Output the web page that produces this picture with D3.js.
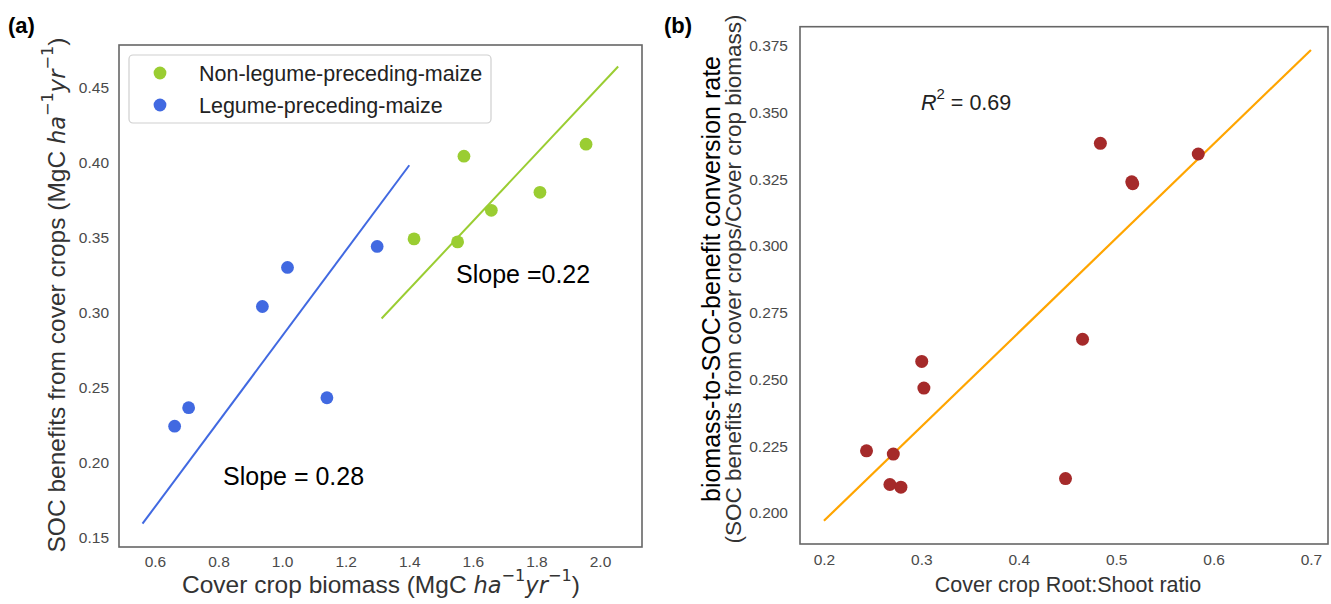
<!DOCTYPE html>
<html><head><meta charset="utf-8">
<script src="https://cdn.jsdelivr.net/npm/d3@7"></script>
<style>
html,body{margin:0;padding:0;background:#fff;}
svg{display:block;font-family:"Liberation Sans",Arial,Helvetica,sans-serif;}
</style></head>
<body>
<svg id="chart" width="1331" height="604"></svg>
<script>
// ---------- data ----------
const nonLegumeX = [1.415, 1.552, 1.572, 1.658, 1.811, 1.956];
const nonLegumeY = [0.349, 0.347, 0.404, 0.368, 0.380, 0.412];
const legumeX = [0.662, 0.706, 0.938, 1.017, 1.141, 1.299];
const legumeY = [0.2244, 0.2367, 0.304, 0.330, 0.2433, 0.344];
const legumeFit = [[0.561, 0.1595], [1.400, 0.398]];
const nonLegumeFit = [[1.313, 0.296], [2.057, 0.4637]];
const seriesNames = ["Non-legume-preceding-maize", "Legume-preceding-maize"];
const xTicksA = [0.6, 0.8, 1.0, 1.2, 1.4, 1.6, 1.8, 2.0];
const yTicksA = [0.15, 0.20, 0.25, 0.30, 0.35, 0.40, 0.45];

const ratioX = [0.4838, 0.5843, 0.516, 0.517, 0.4655, 0.3004, 0.3026, 0.2437, 0.2712, 0.2677, 0.279, 0.448];
const rateY  = [0.3384, 0.3344, 0.324, 0.3233, 0.265, 0.2567, 0.2467, 0.2232, 0.222, 0.2106, 0.2096, 0.2128];
const rateFit = [[0.2, 0.197], [0.7, 0.3734]];
const xTicksB = [0.2, 0.3, 0.4, 0.5, 0.6, 0.7];
const yTicksB = [0.200, 0.225, 0.250, 0.275, 0.300, 0.325, 0.350, 0.375];

// ---------- styles ----------
const GREEN = "#9acd32", BLUE = "#4169e1", ORANGE = "#ffa500", BROWN = "#a52a2a";
const TICK_COLOR = "#4a4a4a", LABEL_COLOR = "#333", FRAME = "#666";

const svg = d3.select("#chart");

function frame(x0, y0, x1, y1) {
  svg.append("rect").attr("x", x0).attr("y", y0).attr("width", x1 - x0).attr("height", y1 - y0)
    .attr("fill", "none").attr("stroke", FRAME).attr("stroke-width", 1.6);
}
function styleAxis(g) {
  g.select(".domain").remove();
  g.selectAll(".tick line").remove();
  g.selectAll("text").attr("fill", TICK_COLOR).style("font-size", "15.5px")
    .style("font-family", '"Liberation Sans",Arial,sans-serif');
}

// ---------- panel (a) ----------
const xA = d3.scaleLinear().domain([0.487, 2.132]).range([119, 642]);
const yA = d3.scaleLinear().domain([0.144, 0.478]).range([547, 45]);

svg.append("g").attr("transform", "translate(0,547)")
  .call(d3.axisBottom(xA).tickValues(xTicksA).tickFormat(d3.format(".1f")).tickSize(0).tickPadding(9))
  .call(styleAxis);
svg.append("g").attr("transform", "translate(119,0)")
  .call(d3.axisLeft(yA).tickValues(yTicksA).tickFormat(d3.format(".2f")).tickSize(0).tickPadding(10))
  .call(styleAxis);

const lineA = d3.line().x(d => xA(d[0])).y(d => yA(d[1]));
svg.append("path").datum(legumeFit).attr("d", lineA).attr("stroke", BLUE).attr("stroke-width", 2).attr("fill", "none");
svg.append("path").datum(nonLegumeFit).attr("d", lineA).attr("stroke", GREEN).attr("stroke-width", 2).attr("fill", "none");

svg.append("g").selectAll("circle").data(d3.zip(nonLegumeX, nonLegumeY)).join("circle")
  .attr("cx", d => xA(d[0])).attr("cy", d => yA(d[1])).attr("r", 6.4).attr("fill", GREEN);
svg.append("g").selectAll("circle").data(d3.zip(legumeX, legumeY)).join("circle")
  .attr("cx", d => xA(d[0])).attr("cy", d => yA(d[1])).attr("r", 6.4).attr("fill", BLUE);

frame(119, 45, 642, 547);

// legend
const leg = svg.append("g");
leg.append("rect").attr("x", 129).attr("y", 55).attr("width", 362).attr("height", 68).attr("rx", 4)
  .attr("fill", "#fff").attr("stroke", "#cfcfcf").attr("stroke-width", 1.2);
[GREEN, BLUE].forEach((c, i) => {
  leg.append("circle").attr("cx", 160).attr("cy", 73 + i * 32).attr("r", 6.4).attr("fill", c);
  leg.append("text").attr("x", 199).attr("y", 73 + i * 32).attr("dy", "0.35em")
    .attr("fill", "#222").style("font-size", "21.5px").text(seriesNames[i]);
});

svg.append("text").attr("x", 456).attr("y", 283).style("font-size", "25px").attr("fill", "#000").text("Slope =0.22");
svg.append("text").attr("x", 223).attr("y", 485).style("font-size", "25px").attr("fill", "#000").text("Slope = 0.28");

// axis labels (a)
function unitsLabel(t, prefix, fs) {
  const math = '"DejaVu Sans",sans-serif';
  const up = Math.round(fs * 0.5 * 10) / 10;
  t.style("font-size", fs + "px");
  t.append("tspan").text(prefix + "(MgC ");
  t.append("tspan").style("font-style", "italic").style("font-family", math).style("font-size", (fs * 0.92) + "px").text("ha");
  t.append("tspan").attr("dy", -up).style("font-family", math).style("font-size", (fs * 0.66) + "px").text("−1");
  t.append("tspan").attr("dy", up).style("font-style", "italic").style("font-family", math).style("font-size", (fs * 0.92) + "px").text("yr");
  t.append("tspan").attr("dy", -up).style("font-family", math).style("font-size", (fs * 0.66) + "px").text("−1");
  t.append("tspan").attr("dy", up).text(")");
}
const xlabA = svg.append("text").attr("x", 381).attr("y", 593).attr("text-anchor", "middle").attr("fill", LABEL_COLOR);
unitsLabel(xlabA, "Cover crop biomass ", 24.5);
const ylabA = svg.append("text").attr("transform", "translate(65,295) rotate(-90)").attr("text-anchor", "middle").attr("fill", LABEL_COLOR);
unitsLabel(ylabA, "SOC benefits from cover crops ", 24.5);

svg.append("text").attr("x", 8).attr("y", 33).style("font-size", "22px").style("font-weight", "bold").text("(a)");

// ---------- panel (b) ----------
const xB = d3.scaleLinear().domain([0.1754, 0.7175]).range([800, 1328]);
const yB = d3.scaleLinear().domain([0.1883, 0.3821]).range([544, 26.7]);

svg.append("g").attr("transform", "translate(0,544)")
  .call(d3.axisBottom(xB).tickValues(xTicksB).tickFormat(d3.format(".1f")).tickSize(0).tickPadding(10))
  .call(styleAxis);
svg.append("g").attr("transform", "translate(800,0)")
  .call(d3.axisLeft(yB).tickValues(yTicksB).tickFormat(d3.format(".3f")).tickSize(0).tickPadding(12))
  .call(styleAxis);

const lineB = d3.line().x(d => xB(d[0])).y(d => yB(d[1]));
svg.append("path").datum(rateFit).attr("d", lineB).attr("stroke", ORANGE).attr("stroke-width", 2.2).attr("fill", "none");
svg.append("g").selectAll("circle").data(d3.zip(ratioX, rateY)).join("circle")
  .attr("cx", d => xB(d[0])).attr("cy", d => yB(d[1])).attr("r", 6.5).attr("fill", BROWN);

frame(800, 26.7, 1328, 544);

const r2 = svg.append("text").attr("x", 921).attr("y", 110).style("font-size", "21.5px").attr("fill", "#222");
r2.append("tspan").style("font-style", "italic").text("R");
r2.append("tspan").attr("dy", -11).style("font-size", "15px").text("2");
r2.append("tspan").attr("dy", 11).text(" = 0.69");

svg.append("text").attr("x", 1068).attr("y", 592).attr("text-anchor", "middle")
  .style("font-size", "21.5px").attr("fill", LABEL_COLOR).text("Cover crop Root:Shoot ratio");
svg.append("text").attr("transform", "translate(720,279) rotate(-90)").attr("text-anchor", "middle")
  .style("font-size", "25px").attr("fill", "#000").text("biomass-to-SOC-benefit conversion rate");
svg.append("text").attr("transform", "translate(741,279) rotate(-90)").attr("text-anchor", "middle")
  .style("font-size", "22.5px").attr("fill", LABEL_COLOR).text("(SOC benefits from cover crops/Cover crop biomass)");

svg.append("text").attr("x", 664).attr("y", 33).style("font-size", "22px").style("font-weight", "bold").text("(b)");
</script>
</body></html>
